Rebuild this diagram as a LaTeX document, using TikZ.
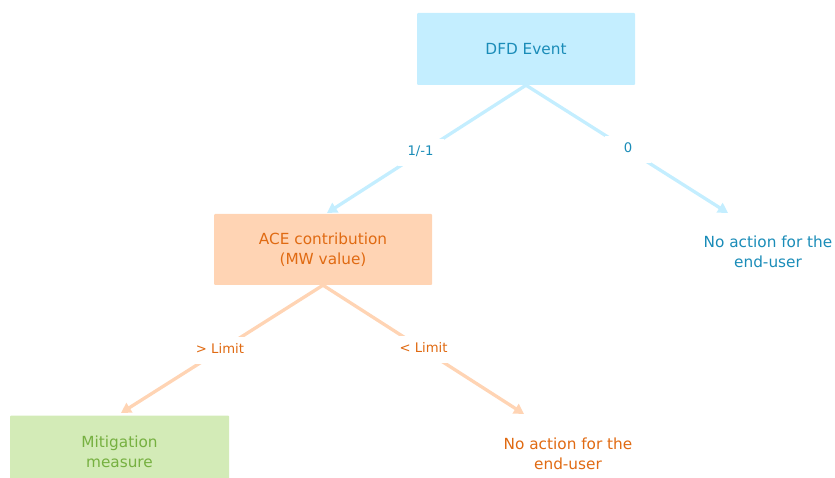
\documentclass[tikz,border=0pt]{standalone}
\usepackage{fontspec}
\setmainfont{DejaVu Sans}
\usetikzlibrary{arrows.meta}
\definecolor{bluefill}{HTML}{C4EEFF}
\definecolor{bluetext}{HTML}{1A8CB8}
\definecolor{peachfill}{HTML}{FFD4B4}
\definecolor{orangetext}{HTML}{E06A12}
\definecolor{greenfill}{HTML}{D3EBB7}
\definecolor{greentext}{HTML}{76B040}
\tikzset{
  box/.style={draw=none, rounded corners=1pt, align=center, inner sep=0pt,
    font=\fontsize{15.3}{20}\selectfont},
  plain/.style={align=center, inner sep=0pt, font=\fontsize{15.3}{20}\selectfont},
  conn/.style={line width=3.3pt, -{Triangle[length=10pt,width=11pt]}},
  lbl/.style={fill=white, font=\fontsize{13.2}{15}\selectfont, text height=8pt,
    text depth=2pt, inner ysep=8.5pt, inner xsep=2pt, minimum width=46pt}
}
\begin{document}
\begin{tikzpicture}[x=1pt,y=-1pt]
\useasboundingbox (0,0) rectangle (835,478);
\node[box, fill=bluefill, text=bluetext, minimum width=218pt, minimum height=72pt] (dfd) at (526,49) {DFD Event};
\node[box, fill=peachfill, text=orangetext, minimum width=218pt, minimum height=71pt] (ace) at (323,249.5) {ACE contribution\\(MW value)};
\node[box, fill=greenfill, text=greentext, minimum width=219pt, minimum height=72pt] (mit) at (119.5,451.5) {Mitigation\\measure};
\node[plain, text=bluetext] (na1) at (768,252) {No action for the\\end-user};
\node[plain, text=orangetext] (na2) at (568,453.5) {No action for the\\end-user};
\coordinate (t1) at (728,213);
\coordinate (t2) at (524,414);
\coordinate (t3) at (121,413);
\coordinate (t4) at (327,213);
\draw[conn, bluefill] (dfd.south) -- node[lbl, text=bluetext, pos=0.53] {1/-1} (t4);
\draw[conn, bluefill] (dfd.south) -- node[lbl, text=bluetext, pos=0.505] {0} (t1);
\draw[conn, peachfill] (ace.south) -- node[lbl, text=orangetext, pos=0.51] {> Limit} (t3);
\draw[conn, peachfill] (ace.south) -- node[lbl, text=orangetext, pos=0.5] {< Limit} (t2);
\end{tikzpicture}
\end{document}
